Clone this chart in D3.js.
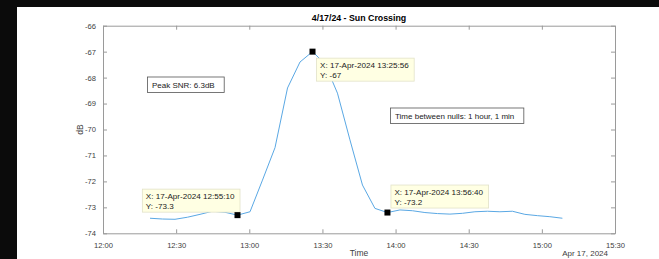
<!DOCTYPE html>
<html lang="en">
<head>
    <meta charset="utf-8">
    <title>Sun Crossing</title>
    <script src="https://cdnjs.cloudflare.com/ajax/libs/d3/7.8.5/d3.min.js"></script>
    <style>
        html, body { margin: 0; padding: 0; background: #0b0b0b; }
        svg { display: block; font-family: "Liberation Sans", Arial, sans-serif; }
        .tick text { fill: #404040; font-size: 7.6px; }
    </style>
</head>
<body>
<svg id="chart" width="659" height="259"></svg>
<script>
    // samples (time of day on 17-Apr-2024, dB)
    var times = [
        "12:19:17", "12:24:25", "12:29:32", "12:34:40", "12:39:47", "12:44:55", "12:50:02",
        "12:55:10", "13:00:18", "13:05:25", "13:10:33", "13:15:41", "13:20:48", "13:25:56",
        "13:31:03", "13:36:10", "13:41:17", "13:46:25", "13:51:32", "13:56:40",
        "14:01:47", "14:06:55", "14:12:02", "14:17:10", "14:22:17", "14:27:25", "14:32:32",
        "14:37:40", "14:42:47", "14:47:55", "14:53:02", "14:58:10", "15:03:17", "15:08:25"
    ];
    var power = [
        -73.42, -73.45, -73.46, -73.38, -73.27, -73.15, -73.19,
        -73.3, -73.17, -71.95, -70.7, -68.4, -67.4, -67.0,
        -67.47, -68.6, -70.4, -72.14, -73.04, -73.2,
        -73.1, -73.13, -73.2, -73.24, -73.26, -73.23, -73.17,
        -73.15, -73.17, -73.15, -73.27, -73.32, -73.36, -73.42
    ];

    // data tips
    var tipTimes = ["12:55:10", "13:25:56", "13:56:40"];
    var tipValues = [-73.3, -67, -73.2];
    var tipSide = ["upleft", "downright", "upright"];

    var xTickLabels = ["12:00", "12:30", "13:00", "13:30", "14:00", "14:30", "15:00", "15:30"];
    var yTicks = [-74, -73, -72, -71, -70, -69, -68, -67, -66];

    var title = "4/17/24 - Sun Crossing";
    var notes = ["Peak SNR: 6.3dB", "Time between nulls: 1 hour, 1 min"];

    var parseT = d3.timeParse("%Y-%m-%d %H:%M:%S");
    var day = "2024-04-17 ";
    var toDate = s => parseT(day + (s.length === 5 ? s + ":00" : s));

    var data = times.map((t, i) => ({ t: toDate(t), v: power[i] }));

    var plotL = 103, plotR = 615, plotT = 25.7, plotB = 233.3;

    var x = d3.scaleTime()
        .domain([toDate("12:00"), toDate("15:30")])
        .range([plotL, plotR]);
    var y = d3.scaleLinear()
        .domain([-74, -66])
        .range([plotB, plotT]);

    var svg = d3.select("#chart");

    svg.append("rect")
        .attr("x", 17).attr("y", 7)
        .attr("width", 642).attr("height", 252)
        .attr("fill", "#ffffff");

    var axisColor = "#9a9a9a";
    var xTickVals = xTickLabels.map(toDate);

    // bottom axis, ticks inside
    var gx = svg.append("g")
        .attr("transform", `translate(0,${plotB})`)
        .call(d3.axisBottom(x).tickValues(xTickVals)
            .tickFormat(d3.timeFormat("%H:%M"))
            .tickSizeInner(-4).tickSizeOuter(0).tickPadding(9));
    // top axis, no labels
    var gxt = svg.append("g")
        .attr("transform", `translate(0,${plotT})`)
        .call(d3.axisTop(x).tickValues(xTickVals).tickFormat("")
            .tickSizeInner(-4).tickSizeOuter(0));
    var gy = svg.append("g")
        .attr("transform", `translate(${plotL},0)`)
        .call(d3.axisLeft(y).tickValues(yTicks)
            .tickFormat(d => String(d))
            .tickSizeInner(-4).tickSizeOuter(0).tickPadding(7));
    var gyr = svg.append("g")
        .attr("transform", `translate(${plotR},0)`)
        .call(d3.axisRight(y).tickValues(yTicks).tickFormat("")
            .tickSizeInner(-4).tickSizeOuter(0));

    [gx, gxt, gy, gyr].forEach(g => {
        g.select(".domain").attr("stroke", axisColor);
        g.selectAll(".tick line").attr("stroke", axisColor);
    });

    // the series
    var line = d3.line().x(d => x(d.t)).y(d => y(d.v));
    svg.append("path")
        .datum(data)
        .attr("d", line)
        .attr("fill", "none")
        .attr("stroke", "#5aa8e4")
        .attr("stroke-width", 1);

    // titles and labels
    svg.append("text")
        .attr("x", (plotL + plotR) / 2).attr("y", 21)
        .attr("text-anchor", "middle")
        .attr("font-size", 8.8).attr("font-weight", "bold")
        .attr("fill", "#000")
        .text(title);

    svg.append("text")
        .attr("transform", `translate(82.5,${(plotT + plotB) / 2}) rotate(-90)`)
        .attr("text-anchor", "middle")
        .attr("font-size", 8.5).attr("fill", "#404040")
        .text("dB");

    svg.append("text")
        .attr("x", (plotL + plotR) / 2).attr("y", 256)
        .attr("text-anchor", "middle")
        .attr("font-size", 8.5).attr("fill", "#404040")
        .text("Time");

    svg.append("text")
        .attr("x", 608).attr("y", 256)
        .attr("text-anchor", "end")
        .attr("font-size", 8).attr("fill", "#404040")
        .text(d3.timeFormat("%b %d, %Y")(toDate("12:00")));

    // text boxes
    function noteBox(bx, by, label) {
        var g = svg.append("g");
        var r = g.append("rect").attr("fill", "#fff").attr("stroke", "#555").attr("stroke-width", 0.8);
        var t = g.append("text")
            .attr("x", bx + 5).attr("y", by + 11)
            .attr("font-size", 8).attr("fill", "#222")
            .text(label);
        var w = t.node().getComputedTextLength();
        r.attr("x", bx + 0.5).attr("y", by + 0.5).attr("width", w + 14).attr("height", 15.5);
    }
    noteBox(147, 76.5, notes[0]);
    noteBox(390, 107.5, notes[1]);

    // data tips
    var tipFmt = d3.timeFormat("%d-%b-%Y %H:%M:%S");
    tipTimes.forEach((s, i) => {
        var d = toDate(s), px = x(d), py = y(tipValues[i]);
        var g = svg.append("g");
        var r = g.append("rect").attr("fill", "#ffffe3").attr("stroke", "#e2e2c8").attr("stroke-width", 0.8);
        var t1 = g.append("text").attr("font-size", 8.1).attr("fill", "#222").text("X: " + tipFmt(d));
        var t2 = g.append("text").attr("font-size", 8.1).attr("fill", "#222")
            .text("Y: " + String(tipValues[i]));
        var w = t1.node().getComputedTextLength() + 9, h = 23;
        var bx, by;
        if (tipSide[i] === "upleft") { bx = px + 2.5 - w; by = py - 3 - h; }
        else if (tipSide[i] === "downright") { bx = px + 4; by = py + 6.5; }
        else { bx = px + 3.5; by = py - 4.5 - h; }
        r.attr("x", bx).attr("y", by).attr("width", w).attr("height", h);
        t1.attr("x", bx + 3.5).attr("y", by + 10);
        t2.attr("x", bx + 3.5).attr("y", by + 19.5);
        svg.append("rect")
            .attr("x", px - 3).attr("y", py - 3)
            .attr("width", 6).attr("height", 6)
            .attr("fill", "#000");
    });
</script>
</body>
</html>
